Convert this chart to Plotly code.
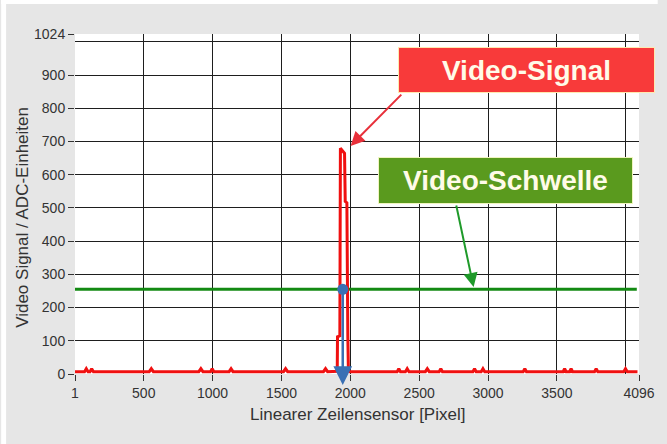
import plotly.graph_objects as go

# ---- data ----
signal_x = [1, 70, 83, 96, 110, 122, 135, 540, 555, 570, 900, 915, 930, 985, 997, 1010,
            1120, 1134, 1148, 1515, 1530, 1545, 1805, 1820, 1835, 1895, 1905, 1907, 1924,
            1928, 1940, 1958, 1963, 1975, 1982, 1986, 1995, 2340, 2352, 2364, 2400, 2413,
            2426, 2545, 2559, 2573, 2645, 2657, 2669, 2890, 2902, 2914, 2950, 2963, 2976,
            3255, 3267, 3279, 3545, 3556, 3567, 3592, 3603, 3614, 3773, 3785, 3797, 3985,
            3998, 4011, 4085]
signal_y = [7, 7, 16, 7, 7, 16, 7, 7, 16, 7, 7, 16, 7, 7, 16, 7,
            7, 16, 7, 7, 16, 7, 7, 16, 7, 7, 8, 112, 115,
            680, 675, 665, 520, 515, 110, 12, 7, 7, 16, 7, 7, 16,
            7, 7, 16, 7, 7, 16, 7, 7, 16, 7, 7, 16, 7,
            7, 16, 7, 7, 16, 7, 7, 16, 7, 7, 16, 7, 7,
            16, 7, 7]

threshold_value = 255
threshold_x = [1, 4080]
crossing_x = 1945

x_tick_vals = [1, 500, 1000, 1500, 2000, 2500, 3000, 3500, 4096]
x_tick_text = ["1", "500", "1000", "1500", "2000", "2500", "3000", "3500", "4096"]
x_extra_grid = [4000]
y_tick_vals = [0, 100, 200, 300, 400, 500, 600, 700, 800, 900, 1024]
y_tick_text = ["0", "100", "200", "300", "400", "500", "600", "700", "800", "900", "1024"]
y_extra_grid = [1000]

label_signal = "Video-Signal"
label_threshold = "Video-Schwelle"
x_title = "Linearer Zeilensensor [Pixel]"
y_title = "Video Signal / ADC-Einheiten"

# ---- figure ----
fig = go.Figure()
fig.add_trace(go.Scatter(x=threshold_x, y=[threshold_value] * len(threshold_x), mode="lines",
                         line=dict(color="#138a13", width=3), hoverinfo="skip"))
fig.add_trace(go.Scatter(x=signal_x, y=signal_y, mode="lines",
                         line=dict(color="#f01010", width=3), hoverinfo="skip"))
fig.add_trace(go.Scatter(x=[crossing_x], y=[threshold_value], mode="markers",
                         marker=dict(color="#3a70b4", size=11), hoverinfo="skip"))

tickfont = dict(family="Liberation Sans Narrow, Arial Narrow, Liberation Sans, Arial", size=14, color="#333333")

fig.update_xaxes(range=[1, 4096], tickmode="array", tickvals=x_tick_vals, ticktext=x_tick_text,
                 showgrid=True, gridcolor="#1e1e1e", gridwidth=1.4, zeroline=False,
                 ticks="outside", ticklen=6, tickwidth=1.4, tickcolor="#333333",
                 tickfont=tickfont, showline=False,
                 minor=dict(tickmode="array", tickvals=x_extra_grid, showgrid=True,
                            gridcolor="#1e1e1e", gridwidth=1.4, ticks=""))
fig.update_yaxes(range=[0, 1024], tickmode="array", tickvals=y_tick_vals, ticktext=y_tick_text,
                 showgrid=True, gridcolor="#1e1e1e", gridwidth=1.4, zeroline=False,
                 ticks="outside", ticklen=6, tickwidth=1.4, tickcolor="#333333",
                 tickfont=tickfont, showline=False,
                 minor=dict(tickmode="array", tickvals=y_extra_grid, showgrid=True,
                            gridcolor="#1e1e1e", gridwidth=1.4, ticks=""))

L, R, T, B = 75, 19, 34, 70
W, H = 667, 444
pw, ph = W - L - R, H - T - B

def px(xp):
    return (xp - L) / pw

def py(yp):
    return (H - B - yp) / ph

box = dict(xref="paper", yref="paper", showarrow=False, xanchor="center", yanchor="middle")

annotations = [
    # axis titles
    dict(text=x_title, x=px(362), y=py(414),
         font=dict(family="Liberation Sans, Arial", size=17, color="#333333"), **box),
    dict(text=y_title, x=px(21), y=py(217), textangle=-90,
         font=dict(family="Liberation Sans, Arial", size=17, color="#333333"), **box),
    # arrows
    dict(x=2002, y=687, ax=2381, ay=846, xref="x", yref="y", axref="x", ayref="y", text="",
         showarrow=True, arrowhead=2, arrowsize=1.4, arrowwidth=2, arrowcolor="#e8303a"),
    dict(x=2895, y=262, ax=2767, ay=512, xref="x", yref="y", axref="x", ayref="y", text="",
         showarrow=True, arrowhead=2, arrowsize=1.4, arrowwidth=2, arrowcolor="#1f9a2a"),
    dict(x=crossing_x, y=-33, ax=crossing_x, ay=threshold_value, xref="x", yref="y",
         axref="x", ayref="y", text="", showarrow=True, arrowhead=2, arrowsize=1.5,
         arrowwidth=2.5, arrowcolor="#3a70b4"),
    # label boxes
    dict(text="<b>" + label_signal + "</b>", x=px(533.5), y=py(70.5),
         bgcolor="#f83a3a", bordercolor="#ffe9b0", borderwidth=1,
         borderpad=0, width=255, height=44,
         font=dict(family="Liberation Sans, Arial", size=28, color="#fffbe8"), **box),
    dict(text="<b>" + label_threshold + "</b>", x=px(512.5), y=py(180),
         bgcolor="#5a9a1e", bordercolor="#f0f5c0", borderwidth=1,
         borderpad=0, width=253, height=45,
         font=dict(family="Liberation Sans, Arial", size=28, color="#fffbe8"), **box),
]

shapes = [
    dict(type="rect", xref="paper", yref="paper", x0=px(0), x1=px(W), y0=py(4), y1=py(0),
         fillcolor="white", line=dict(width=0), layer="above"),
    dict(type="rect", xref="paper", yref="paper", x0=px(0), x1=px(5), y0=py(H), y1=py(0),
         fillcolor="white", line=dict(width=0), layer="above"),
]

fig.update_layout(width=W, height=H, margin=dict(l=L, r=R, t=T, b=B),
                  paper_bgcolor="#e6e6e6", plot_bgcolor="white", showlegend=False,
                  annotations=annotations, shapes=shapes)

fig.write_html("out.html", config={"displayModeBar": False},
               post_script="document.body.style.margin='0px';document.body.style.overflow='hidden';")
